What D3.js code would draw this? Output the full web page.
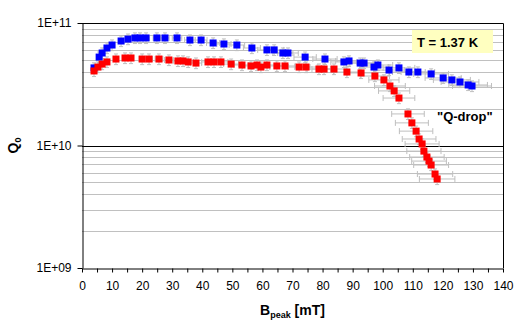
<!DOCTYPE html>
<html>
<head>
<meta charset="utf-8">
<script src="https://cdn.jsdelivr.net/npm/d3@7"></script>
<style>
  body { margin: 0; background: #fff; }
  text { font-family: Arial, "Liberation Sans", sans-serif; }
</style>
</head>
<body>
<div id="chart"></div>
<script>
// values
const blueB = [4.0, 5.7, 6.7, 8.3, 10.0, 13.0, 15.3, 17.6, 19.3, 21.3, 24.9, 27.6, 31.6, 35.9, 39.6,
  43.6, 47.2, 51.5, 56.5, 61.5, 63.9, 66.8, 68.5, 74.2, 80.8, 87.1, 88.8, 92.5, 93.8, 97.1, 98.4,
  102.1, 105.4, 108.7, 111.7, 116.1, 120.1, 123.0, 125.7, 128.4, 129.7];
const blueQ = [4.30e10, 5.27e10, 5.69e10, 6.25e10, 6.61e10, 7.13e10, 7.39e10, 7.55e10, 7.55e10, 7.55e10,
  7.55e10, 7.55e10, 7.55e10, 7.26e10, 7.26e10, 6.87e10, 6.74e10, 6.61e10, 6.25e10, 6.03e10, 6.03e10,
  5.69e10, 5.69e10, 5.27e10, 5.08e10, 4.81e10, 4.90e10, 4.71e10, 4.71e10, 4.37e10, 4.54e10, 4.13e10,
  4.30e10, 3.98e10, 3.98e10, 3.84e10, 3.56e10, 3.43e10, 3.30e10, 3.12e10, 3.06e10];

const redB = [4.0, 5.3, 6.7, 8.3, 11.3, 14.3, 16.3, 20.0, 22.3, 25.6, 28.9, 31.9, 33.6, 35.3, 37.9,
  41.9, 43.9, 46.2, 49.6, 53.2, 56.2, 58.2, 59.5, 61.5, 64.8, 67.5, 72.2, 74.5, 78.8, 80.5, 83.8,
  88.1, 92.8, 97.4, 100.4, 102.4, 103.8, 105.4, 108.4, 109.7, 111.1, 112.1, 113.1, 113.7, 114.7,
  115.4, 116.1, 117.4, 118.1];
const redQ = [4.06e10, 4.37e10, 4.62e10, 4.81e10, 5.08e10, 5.18e10, 5.18e10, 5.08e10, 5.08e10, 5.08e10,
  4.99e10, 4.90e10, 4.90e10, 4.81e10, 4.71e10, 4.81e10, 4.81e10, 4.81e10, 4.62e10, 4.54e10, 4.46e10,
  4.54e10, 4.37e10, 4.54e10, 4.46e10, 4.46e10, 4.37e10, 4.37e10, 4.21e10, 4.21e10, 4.21e10, 3.98e10,
  3.91e10, 3.69e10, 3.43e10, 3.06e10, 2.79e10, 2.44e10, 1.81e10, 1.53e10, 1.31e10, 1.13e10, 1.03e10,
  9.0e9, 8.05e9, 7.46e9, 6.93e9, 5.85e9, 5.33e9];

const xTicks = d3.range(0, 141, 5);
const yTicks = [1e9, 1e10, 1e11];
const xErrFrac = 0.05;   // percentage error bars, like Excel
const yErrFrac = 0.10;

const width = 524, height = 330;
const margin = {left: 82, right: 21, top: 23, bottom: 62};

const svg = d3.select("#chart").append("svg")
  .attr("width", width)
  .attr("height", height);

const x = d3.scaleLinear().domain([0, 140]).range([margin.left, width - margin.right]);
const y = d3.scaleLog().domain([1e9, 1e11]).range([height - margin.bottom, margin.top]);

// gridlines at 2..9 of each decade
const minor = [];
[1e9, 1e10].forEach(d => { for (let k = 2; k <= 9; k++) minor.push(d * k); });

svg.append("g").selectAll("line")
  .data(minor)
  .join("line")
    .attr("x1", x(0)).attr("x2", x(140))
    .attr("y1", d => Math.round(y(d)) + 0.5).attr("y2", d => Math.round(y(d)) + 0.5)
    .attr("stroke", "#c0c0c0");

// major line at 1E+10 and frame
svg.append("line")
  .attr("x1", x(0)).attr("x2", x(140))
  .attr("y1", Math.round(y(1e10)) + 0.5).attr("y2", Math.round(y(1e10)) + 0.5)
  .attr("stroke", "#000");
svg.append("path")
  .attr("d", `M${x(0)},${Math.round(y(1e11)) + 0.5}H${Math.round(x(140)) + 0.5}V${y(1e9)}`)
  .attr("fill", "none")
  .attr("stroke", "#000");

// axes
const xAxis = svg.append("g")
  .attr("transform", `translate(0,${Math.round(y(1e9)) + 0.5})`)
  .call(d3.axisBottom(x).tickValues(xTicks)
    .tickFormat(d => d % 10 === 0 ? d : "")
    .tickSize(4).tickPadding(9).tickSizeOuter(0));
xAxis.select(".domain").attr("stroke", "#000");
xAxis.selectAll("text").attr("font-size", "12px").attr("fill", "#000");

const yAxis = svg.append("g")
  .attr("transform", `translate(${Math.round(x(0)) + 0.5},0)`)
  .call(d3.axisLeft(y).tickValues(yTicks)
    .tickFormat(d => "1E+" + String(Math.round(Math.log10(d))).padStart(2, "0"))
    .tickSize(5).tickPadding(6).tickSizeOuter(0));
yAxis.selectAll("text").attr("font-size", "12px").attr("fill", "#000");

// error bars + markers
const series = [
  {b: blueB, q: blueQ, color: "#0000ff"},
  {b: redB, q: redQ, color: "#ff0000"}
];

series.forEach(s => {
  const pts = s.b.map((b, i) => ({b: b, q: s.q[i]}));
  const g = svg.append("g").attr("stroke", "#bfbfbf").attr("fill", "none");
  pts.forEach(p => {
    const cx = x(p.b), cy = y(p.q);
    const x0 = x(p.b * (1 - xErrFrac)), x1 = x(p.b * (1 + xErrFrac));
    const y0 = y(p.q * (1 - yErrFrac)), y1 = y(p.q * (1 + yErrFrac));
    g.append("path").attr("d",
      `M${x0},${cy}H${x1}M${x0},${cy - 3}V${cy + 3}M${x1},${cy - 3}V${cy + 3}` +
      `M${cx},${y0}V${y1}M${cx - 2},${y0}H${cx + 2}M${cx - 2},${y1}H${cx + 2}`);
  });
  s.pts = pts;
});

series.forEach(s => {
  svg.append("g").selectAll("rect")
    .data(s.pts)
    .join("rect")
      .attr("x", d => x(d.b) - 3.5)
      .attr("y", d => y(d.q) - 3.5)
      .attr("width", 7)
      .attr("height", 7)
      .attr("fill", s.color);
});

// axis titles
const xt = svg.append("text")
  .attr("x", (x(0) + x(140)) / 2)
  .attr("y", 315)
  .attr("text-anchor", "middle")
  .attr("font-size", "14px")
  .attr("font-weight", "bold");
xt.append("tspan").text("B");
xt.append("tspan").attr("font-size", "9px").attr("dy", 3).text("peak");
xt.append("tspan").attr("dy", -3).text(" [mT]");

const yt = svg.append("text")
  .attr("transform", `translate(18,${(y(1e9) + y(1e11)) / 2}) rotate(-90)`)
  .attr("text-anchor", "middle")
  .attr("font-size", "14px")
  .attr("font-weight", "bold");
yt.append("tspan").text("Q");
yt.append("tspan").attr("font-size", "9px").attr("dy", 3).text("0");

// temperature label
svg.append("rect")
  .attr("x", 412).attr("y", 30)
  .attr("width", 81).attr("height", 23)
  .attr("fill", "#ffffc0");
svg.append("text")
  .attr("x", 417).attr("y", 47)
  .attr("font-size", "13px")
  .attr("font-weight", "bold")
  .text("T = 1.37 K");

svg.append("text")
  .attr("x", 437).attr("y", 121)
  .attr("font-size", "13px")
  .attr("font-weight", "bold")
  .text("\"Q-drop\"");
</script>
</body>
</html>
